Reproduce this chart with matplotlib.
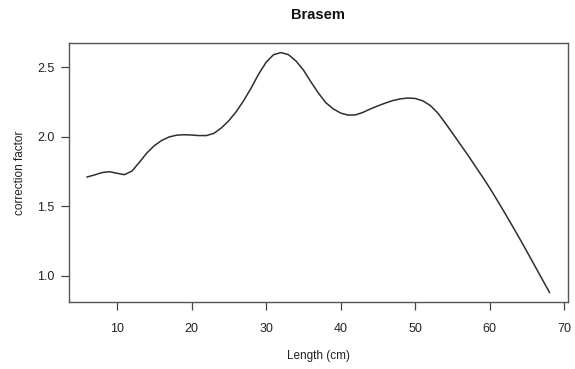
import matplotlib
matplotlib.use("Agg")
import matplotlib.pyplot as plt

plt.rcParams["font.family"] = ["Liberation Sans", "DejaVu Sans"]

# length classes (cm) and smoothed correction factor
length = [6, 7, 8, 9, 10, 11, 12, 13, 14, 15, 16, 17, 18, 19, 20, 21, 22, 23, 24,
          25, 26, 27, 28, 29, 30, 31, 32, 33, 34, 35, 36, 37, 38, 39, 40, 41, 42,
          43, 44, 45, 46, 47, 48, 49, 50, 51, 52, 53, 54, 55, 56, 57, 58, 59, 60,
          61, 62, 63, 64, 65, 66, 67, 68]
factor = [1.71, 1.725, 1.742, 1.748, 1.737, 1.727, 1.752, 1.815, 1.882, 1.935, 1.973,
          1.998, 2.011, 2.014, 2.012, 2.008, 2.008, 2.024, 2.063, 2.115, 2.18, 2.26,
          2.35, 2.45, 2.535, 2.59, 2.605, 2.59, 2.545, 2.48, 2.395, 2.315, 2.245,
          2.2, 2.17, 2.155, 2.157, 2.175, 2.2, 2.222, 2.242, 2.26, 2.272, 2.278,
          2.275, 2.258, 2.225, 2.172, 2.1, 2.025, 1.948, 1.872, 1.792, 1.712, 1.63,
          1.542, 1.452, 1.36, 1.267, 1.171, 1.074, 0.977, 0.88]

xticks = [10, 20, 30, 40, 50, 60, 70]
yticks = [1.0, 1.5, 2.0, 2.5]

fig = plt.figure(figsize=(5.75, 3.69), dpi=100)
ax = fig.add_axes([0.1193, 0.1816, 0.8685, 0.7019])

ax.plot(length, factor, color="#2e2e2e", lw=1.1)

# R-style 4% padding around the data range
xr = max(length) - min(length)
yr = max(factor) - min(factor)
ax.set_xlim(min(length) - 0.04 * xr, max(length) + 0.04 * xr)
ax.set_ylim(min(factor) - 0.04 * yr, max(factor) + 0.04 * yr)

ax.set_xticks(xticks)
ax.set_xticklabels([str(t) for t in xticks])
ax.set_yticks(yticks)
ax.set_yticklabels(["%.1f" % t for t in yticks])
ax.tick_params(direction="out", length=6, width=0.9, colors="#444444",
               labelsize=9, labelcolor="#222222", pad=4)
ax.tick_params(axis="x", pad=9)

for s in ax.spines.values():
    s.set_color("#555555")
    s.set_linewidth(1.0)

ax.set_title("Brasem", fontsize=10.5, fontweight="bold", color="#111111", pad=17)
ax.set_xlabel("Length (cm)", fontsize=8.5, color="#222222", labelpad=11)
ax.set_ylabel("correction factor", fontsize=8.5, color="#222222", labelpad=8)

fig.savefig("out.png", dpi=100)
